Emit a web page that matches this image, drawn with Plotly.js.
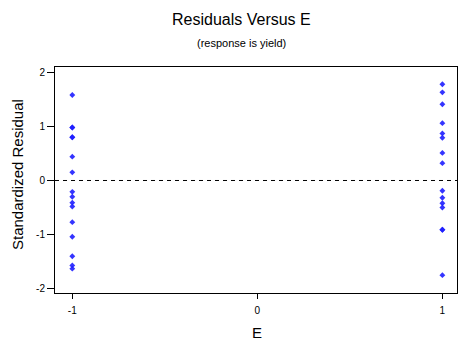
<!DOCTYPE html>
<html>
<head>
<meta charset="utf-8">
<script src="https://cdn.plot.ly/plotly-3.0.1.min.js"></script>
<style>html,body{margin:0;padding:0;background:#fff;}#chart{width:459px;height:341px;}</style>
</head>
<body>
<div id="chart"></div>
<script>
const levelLow = -1;
const levelHigh = 1;
const residLow = [1.58, 0.98, 0.98, 0.80, 0.80, 0.44, 0.15, -0.21, -0.30, -0.41, -0.48, -0.77, -1.04, -1.40, -1.57, -1.63];
const residHigh = [1.78, 1.63, 1.41, 1.06, 0.87, 0.79, 0.51, 0.32, -0.19, -0.32, -0.42, -0.50, -0.91, -0.91, -1.75];
const xTicks = [-1, 0, 1];
const yTicks = [-2, -1, 0, 1, 2];

const xs = residLow.map(() => levelLow).concat(residHigh.map(() => levelHigh));
const ys = residLow.concat(residHigh);

const font = {family: 'Arial, Liberation Sans, sans-serif', color: '#000'};
const f = (s) => Object.assign({size: s}, font);

const trace = {
  x: xs, y: ys, type: 'scatter', mode: 'markers',
  marker: {symbol: 'diamond', size: 4.5, color: 'rgba(30,30,255,0.9)', line: {width: 0}},
  hoverinfo: 'skip'
};

const layout = {
  width: 459, height: 341,
  margin: {l: 55, r: 2, t: 67, b: 48},
  paper_bgcolor: '#fff', plot_bgcolor: '#fff',
  showlegend: false,
  font: f(10),
  xaxis: {
    range: [-1.0935, 1.079], tickvals: xTicks, ticktext: xTicks.map(String),
    ticks: 'outside', ticklen: 5, tickwidth: 1, tickcolor: '#000', ticklabelstandoff: 3,
    showline: true, linecolor: '#000', linewidth: 1, mirror: true,
    showgrid: false, zeroline: false, tickfont: f(10)
  },
  yaxis: {
    range: [-2.08, 2.098], tickvals: yTicks, ticktext: yTicks.map(String),
    ticks: 'outside', ticklen: 7, tickwidth: 1, tickcolor: '#000',
    showline: true, linecolor: '#000', linewidth: 1, mirror: true,
    showgrid: false, zeroline: false, tickfont: f(10)
  },
  shapes: [{
    type: 'line', xref: 'paper', yref: 'y', x0: 0, x1: 1, y0: 0, y1: 0,
    line: {color: '#000', width: 1, dash: '4px,4px'}
  }],
  annotations: [
    {text: 'Residuals Versus E', xref: 'paper', yref: 'paper', x: 0.465, y: 1.212,
     xanchor: 'center', yanchor: 'middle', showarrow: false, font: f(16)},
    {text: '(response is yield)', xref: 'paper', yref: 'paper', x: 0.465, y: 1.106,
     xanchor: 'center', yanchor: 'middle', showarrow: false, font: f(11)},
    {text: 'Standardized Residual', xref: 'paper', yref: 'paper', x: -0.0945, y: 0.522,
     xanchor: 'center', yanchor: 'middle', textangle: -90, showarrow: false, font: f(15)},
    {text: 'E', xref: 'paper', yref: 'paper', x: 0.502, y: -0.1726,
     xanchor: 'center', yanchor: 'middle', showarrow: false, font: f(15)}
  ]
};

Plotly.newPlot('chart', [trace], layout, {staticPlot: true, displayModeBar: false});
</script>
</body>
</html>
